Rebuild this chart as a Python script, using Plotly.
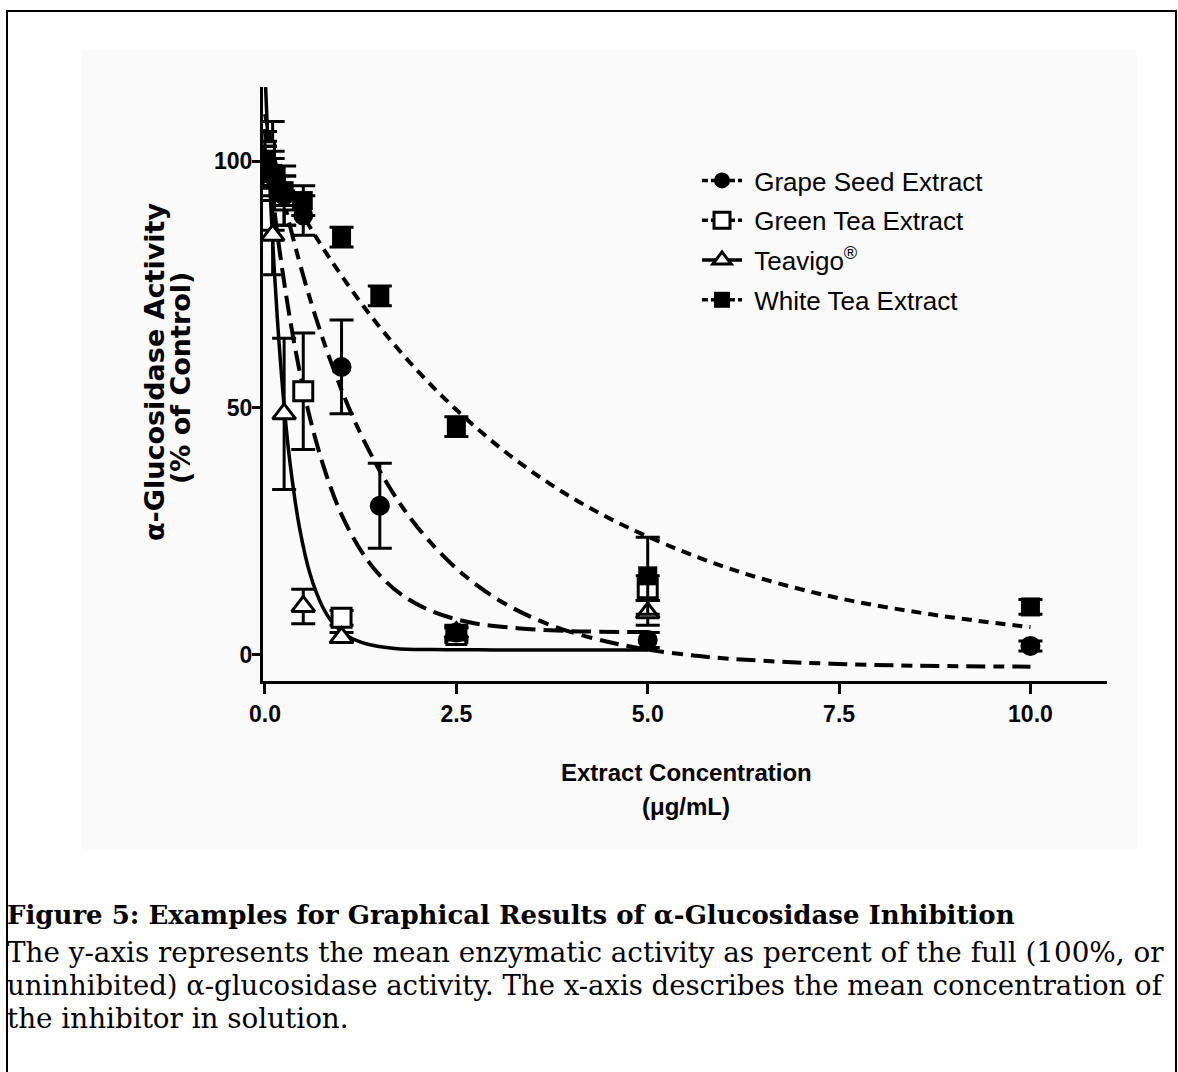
import plotly.graph_objects as go

# ---------------- data ----------------
conc = [0, 0.1, 0.25, 0.5, 1.0, 1.5, 2.5, 5.0, 10.0]
grape_y = [100, 97, 93, 89, 58.3, 30.2, 4.5, 3.0, 1.8]
grape_err = [4, 5, 6, 4, 9.5, 8.6, 1.5, 1.5, 1.0]
white_y = [100, 97.5, 94, 92, 84.6, 72.7, 46.2, 16.0, 9.7]
white_err = [3, 3, 3, 3, 2, 2, 2, 7.8, 1.5]

conc7 = [0, 0.1, 0.25, 0.5, 1.0, 2.5, 5.0]
green_y = [102, 97, 92, 53.4, 7.5, 4.0, 13.5]
green_err = [4, 11, 5, 11.8, 1.5, 1.5, 2.5]
teav_y = [100, 85, 48.8, 9.8, 3.5, 4.5, 8.5]
teav_err = [3, 8, 15.3, 3.5, 1.0, 1.0, 2.5]

# fitted curves
teav_fit_x = [0, 0.05, 0.1, 0.16, 0.25, 0.33, 0.45, 0.59, 0.75, 0.9, 1.1, 1.33, 1.7, 2.2, 3.0, 4.0, 5.0]
teav_fit_y = [118, 99.4, 83.9, 68.4, 50.4, 38.5, 25.8, 16.3, 9.8, 6.2, 3.6, 2.2, 1.3, 1.06, 1.0, 1.0, 1.0]
green_fit_x = [0, 0.2, 0.4, 0.6, 0.8, 1.0, 1.25, 1.5, 1.8, 2.2, 2.7, 3.3, 4.0, 5.0]
green_fit_y = [106.5, 80.8, 61.6, 47.2, 36.5, 28.4, 21.2, 16.1, 12.0, 8.7, 6.5, 5.4, 4.8, 4.6]
grape_fit_x = [0, 0.3, 0.6, 0.9, 1.2, 1.6, 2.0, 2.5, 3.0, 3.5, 4.0, 4.8, 5.7, 6.5, 7.4, 8.5, 10.0]
grape_fit_y = [109.5, 88.5, 71.5, 57.7, 46.4, 34.6, 25.7, 17.5, 11.6, 7.5, 4.6, 1.6, -0.3, -1.2, -1.8, -2.2, -2.4]
white_fit_x = [0, 0.25, 0.5, 0.85, 1.4, 2.0, 2.6, 3.3, 4.1, 4.95, 6.1, 7.4, 8.7, 10.0]
white_fit_y = [103, 95.8, 88.9, 80.2, 68.3, 57.4, 48.2, 39.2, 31.0, 24.3, 17.3, 11.8, 8.2, 5.6]

series_names = ["Grape Seed Extract", "Green Tea Extract", "Teavigo<sup>®</sup>", "White Tea Extract"]
x_ticks = [0, 2.5, 5.0, 7.5, 10.0]
x_ticktext = ["0.0", "2.5", "5.0", "7.5", "10.0"]
y_ticks = [0, 50, 100]

# ---------------- layout geometry ----------------
W, H = 1178, 1072
L, R, T, B = 263, 1107, 87, 681


def px(x):
    return (x - L) / (R - L)


def py(y):
    return (B - y) / (B - T)


SANS = "Liberation Sans"
SERIF = "DejaVu Serif"

dash_grape = "11px,8px,19px,8px"
dash_green = "20px,8px"
dash_white = "10px,7px"

styles = {
    "grape": dict(symbol="circle", color="black", line=dict(color="black", width=0), size=20),
    "green": dict(symbol="square", color="white", line=dict(color="black", width=3), size=19),
    "teav": dict(symbol="triangle-up", color="white", line=dict(color="black", width=3), size=20),
    "white": dict(symbol="square", color="black", line=dict(color="black", width=0), size=19),
}

fig = go.Figure()

# curves
fig.add_trace(go.Scatter(x=white_fit_x, y=white_fit_y, mode="lines", line=dict(color="black", width=4, dash=dash_white, shape="spline"), showlegend=False, hoverinfo="skip"))
fig.add_trace(go.Scatter(x=grape_fit_x, y=grape_fit_y, mode="lines", line=dict(color="black", width=4, dash=dash_grape, shape="spline"), showlegend=False, hoverinfo="skip"))
fig.add_trace(go.Scatter(x=green_fit_x, y=green_fit_y, mode="lines", line=dict(color="black", width=4, dash=dash_green, shape="spline"), showlegend=False, hoverinfo="skip"))
fig.add_trace(go.Scatter(x=teav_fit_x, y=teav_fit_y, mode="lines", line=dict(color="black", width=3.5, shape="spline"), showlegend=False, hoverinfo="skip"))

err = dict(type="data", color="black", thickness=3, width=12)

# data points (drawing order: green, teavigo, grape, white)
fig.add_trace(go.Scatter(x=conc7, y=green_y, mode="markers", marker=styles["green"], error_y=dict(err, array=green_err), showlegend=False))
fig.add_trace(go.Scatter(x=conc7, y=teav_y, mode="markers", marker=styles["teav"], error_y=dict(err, array=teav_err), showlegend=False))
fig.add_trace(go.Scatter(x=conc, y=grape_y, mode="markers", marker=styles["grape"], error_y=dict(err, array=grape_err), showlegend=False))
fig.add_trace(go.Scatter(x=conc, y=white_y, mode="markers", marker=styles["white"], error_y=dict(err, array=white_err), showlegend=False))

# legend entries
for name, key, dash in zip(series_names, ["grape", "green", "teav", "white"], [dash_grape, dash_green, None, dash_white]):
    ln = dict(color="black", width=3.5)
    if dash:
        ln["dash"] = "6px,3px"
    fig.add_trace(go.Scatter(x=[None], y=[None], mode="lines+markers", name="\u00a0" + name,
                             marker=styles[key], line=ln, legendgroup=key))

annotations = [
    dict(text="α-Glucosidase Activity", x=px(154), y=py(372), textangle=-90,
         font=dict(family="DejaVu Sans", size=27, color="black", weight="bold")),
    dict(text="(% of Control)", x=px(180), y=py(378), textangle=-90,
         font=dict(family="DejaVu Sans", size=27, color="black", weight="bold")),
    dict(text="Extract Concentration", x=px(686), y=py(772),
         font=dict(family=SANS, size=24, color="black", weight="bold")),
    dict(text="(μg/mL)", x=px(686), y=py(806),
         font=dict(family=SANS, size=24, color="black", weight="bold")),
    dict(text="Figure 5: Examples for Graphical Results of α-Glucosidase Inhibition", x=px(5), y=py(915), xanchor="left",
         font=dict(family=SERIF, size=26, color="black", weight="bold")),
    dict(text="The y-axis represents the mean enzymatic activity as percent of the full (100%, or", x=px(5), y=py(952), xanchor="left",
         font=dict(family=SERIF, size=27.8, color="black")),
    dict(text="uninhibited) α-glucosidase activity. The x-axis describes the mean concentration of", x=px(5), y=py(985), xanchor="left",
         font=dict(family=SERIF, size=27.5, color="black")),
    dict(text="the inhibitor in solution.", x=px(5), y=py(1018), xanchor="left",
         font=dict(family=SERIF, size=27.8, color="black")),
]
for a in annotations:
    a.update(xref="paper", yref="paper", showarrow=False)
    a.setdefault("xanchor", "center")
    a.setdefault("yanchor", "middle")

shapes = [
    dict(type="rect", xref="paper", yref="paper", x0=px(82), x1=px(1137), y0=py(50), y1=py(850),
         fillcolor="#fafafa", line=dict(width=0), layer="below"),
    dict(type="rect", xref="paper", yref="paper", x0=px(7), x1=px(1176), y0=py(11), y1=py(1085),
         fillcolor="rgba(0,0,0,0)", line=dict(color="black", width=2)),
]

axis_common = dict(showline=True, linewidth=3, linecolor="black", showgrid=False, zeroline=False,
                   ticks="outside", tickwidth=3, tickcolor="black",
                   tickfont=dict(family=SANS, size=23, color="black", weight="bold"))

fig.update_layout(
    width=W, height=H,
    margin=dict(l=L, r=W - R, t=T, b=H - B, pad=0),
    paper_bgcolor="white", plot_bgcolor="rgba(0,0,0,0)",
    xaxis=dict(axis_common, range=[-0.026, 11.0], tickvals=x_ticks, ticktext=x_ticktext, ticklen=10),
    yaxis=dict(axis_common, range=[-5.3, 115], tickvals=y_ticks, ticklen=8, ticklabelstandoff=-5),
    legend=dict(x=px(697), y=py(157), xanchor="left", yanchor="top", bgcolor="rgba(0,0,0,0)",
                font=dict(family=SANS, size=26, color="black"), tracegroupgap=3, itemwidth=40),
    annotations=annotations, shapes=shapes, showlegend=True,
)

fig.write_html("out.html", config={"displayModeBar": False},
               post_script="document.body.style.margin='0px';")
